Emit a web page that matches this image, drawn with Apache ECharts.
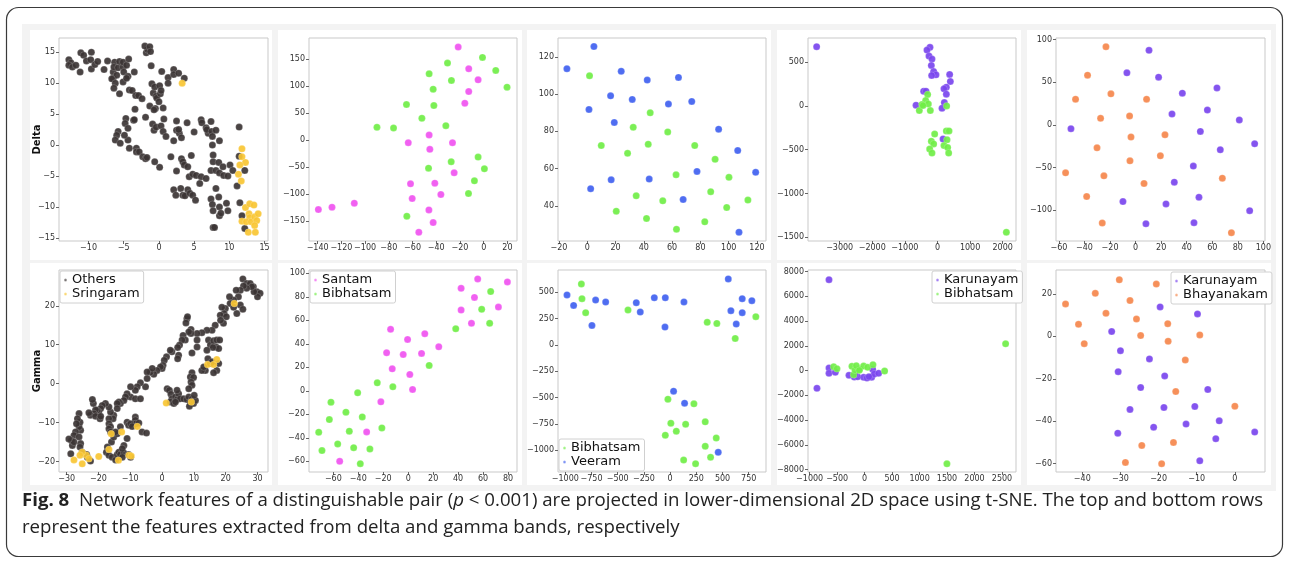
<!DOCTYPE html>
<html>
<head>
<meta charset="utf-8">
<script src="https://cdn.jsdelivr.net/npm/echarts@6/dist/echarts.min.js"></script>
<style>
  html, body { margin: 0; padding: 0; background: #fff; }
  #chart { position: absolute; left: 0; top: 0; width: 1290px; height: 564px; }
  #cap { position: absolute; left: 22px; top: 486px; font-family: 'Open Sans', 'Noto Sans', sans-serif;
         font-size: 18px; line-height: 27px; color: #222; white-space: nowrap; transform-origin: 0 0; }
  #cap div { display: inline-block; }
</style>
</head>
<body>
<div id="chart"></div>
<div id="cap">
  <div id="capLine1"><b>Fig. 8</b>&nbsp; Network features of a distinguishable pair (<i>p</i> &lt; 0.001) are projected in lower-dimensional 2D space using t-SNE. The top and bottom rows</div><br>
  <div>represent the features extracted from delta and gamma bands, respectively</div>
</div>
<script>
// ---- delta band (top row) ----
var delta1Others = [[-12.8,13.8],[-12.5,13.3],[-12.8,12.9],[-12.3,12.6],[-11.8,12.9],[-11.2,11.8],[-11.1,14.9],[-10.7,14.5],[-10.3,13.6],[-9.6,15.0],[-9.7,13.8],[-9.6,12.3],[-9.1,13.0],[-8.7,13.5],[-7.8,12.2],[-7.3,13.6],[-6.5,11.8],[-6.5,10.8],[-6.3,13.4],[-6.4,12.6],[-6.0,11.3],[-5.8,12.5],[-5.6,13.5],[-5.1,12.6],[-5.0,11.8],[-5.1,13.4],[-4.6,12.9],[-4.3,13.9],[-3.5,11.8],[-4.4,11.1],[-6.7,10.7],[-6.2,10.0],[-6.4,9.2],[-5.6,8.3],[-5.1,10.2],[-4.6,10.8],[-4.2,8.9],[-3.8,8.8],[-3.3,8.0],[-2.9,8.0],[-2.4,7.5],[-1.3,6.3],[-0.8,8.4],[-0.4,7.9],[-0.3,7.6],[0.0,7.0],[-0.5,5.9],[-0.7,5.7],[0.2,8.3],[0.6,6.0],[-1.0,9.9],[-0.6,9.4],[0.1,9.6],[0.3,8.8],[-1.1,12.8],[-1.8,14.9],[-1.6,15.4],[-2.0,16.0],[-1.3,15.9],[-1.2,15.1],[0.4,11.9],[1.3,10.9],[2.1,12.2],[2.1,11.4],[2.8,11.6],[3.6,10.8],[1.3,10.0],
  [-3.4,5.8],[-3.6,4.0],[-4.7,4.3],[-4.8,3.5],[-4.4,2.7],[-5.8,2.2],[-6.0,1.6],[-6.2,0.8],[-5.5,0.3],[-4.4,0.8],[-4.9,1.6],[-3.5,4.1],[-4.2,-0.5],[-3.2,-0.5],[-3.2,-1.1],[-2.8,-1.1],[-2.3,-1.9],[-1.9,-2.2],[-1.7,-2.0],[-0.6,-2.7],[0.1,-3.6],[-1.9,4.5],[-0.9,3.4],[-0.7,2.4],[-0.4,2.9],[0.3,3.1],[0.7,4.2],[0.6,2.2],[1.0,1.4],[2.5,3.9],[2.5,2.4],[2.9,1.9],[3.2,1.2],[2.1,0.7],[2.8,2.5],[4.0,3.6],[5.0,2.1],[1.7,-1.9],[3.2,-2.2],[3.4,-2.7],[3.6,-3.2],[2.5,-4.2],[4.1,-3.5],[4.6,-1.7],[4.3,-5.1],[4.8,-4.7],[5.3,-4.9],[5.8,-6.2],[6.0,-5.1],[6.7,-5.4],[6.0,4.1],[6.1,3.6],[6.7,2.8],[7.0,1.9],[7.4,3.8],[6.8,2.5],[7.5,2.2],[7.6,1.4],[8.1,2.4],[8.6,0.7],[7.6,0.0],[7.7,-1.6],[7.7,-2.7],[8.5,-2.8],[7.4,-4.1],[8.1,-4.1],[8.6,-4.5],[9.1,-3.5],[9.2,-4.9],[9.8,-5.0],[10.1,-3.2],[10.5,-4.1],[11.4,2.9],[11.4,-1.8],[12.2,-4.1],[11.1,-6.6],
  [2.1,-7.2],[2.4,-8.1],[3.1,-7.0],[3.4,-8.1],[3.7,-8.2],[4.1,-7.2],[4.4,-7.8],[4.8,-8.1],[5.2,-8.9],[7.4,-8.7],[7.6,-9.6],[7.7,-10.6],[8.1,-7.0],[8.5,-8.4],[8.6,-10.0],[8.6,-11.4],[8.8,-11.0],[9.6,-9.4],[9.8,-10.6],[7.7,-13.3],[7.9,-13.3],[11.5,-9.3],[11.8,-11.4],[12.2,-13.5]];
var delta1Sringaram = [[3.3,10.0],[11.8,-0.6],[11.8,-1.9],[12.3,-2.8],[11.5,-3.2],[11.3,-4.7],[11.7,-5.8],[12.3,-10.1],[12.9,-9.5],[13.5,-9.7],[12.8,-11.1],[12.9,-11.7],[11.8,-12.3],[12.4,-12.4],[13.1,-12.4],[13.6,-11.6],[14.1,-11.1],[13.9,-12.2],[13.6,-13.0],[12.7,-14.1],[13.7,-14.1]];

var delta2Santam = [[-21.5,172.3],[-12.6,132.1],[-4.7,111.6],[-12.6,90.0],[-15.9,68.3],[-46.0,9.6],[-26.3,-4.7],[-63.6,-4.7],[-45.4,-17.0],[-24.9,-60.3],[-41.2,-79.5],[-61.7,-80.7],[-36.1,-100.5],[-60.3,-108.0],[-139.4,-128.4],[-127.9,-124.0],[-109.1,-116.6],[-46.2,-129.0],[-42.6,-152.5],[-54.7,-170.4]];
var delta2Bibhatsam = [[-1.0,153.1],[-30.5,142.6],[10.2,129.0],[-46.0,122.8],[-27.2,110.4],[19.7,98.0],[-42.6,94.3],[-65.1,65.9],[-42.0,64.0],[-52.1,40.5],[-31.9,26.9],[-90.0,23.8],[-76.0,22.6],[-4.7,-31.3],[-27.4,-39.9],[-46.5,-51.7],[0.6,-52.9],[-7.8,-75.2],[-12.8,-98.7],[-64.8,-140.7]];

var delta3Veeram = [[4.7,125.6],[-14.4,113.7],[24.0,112.3],[42.4,107.6],[64.5,109.0],[16.5,99.1],[31.8,97.2],[57.4,94.7],[73.9,96.1],[1.2,91.8],[19.1,84.8],[92.9,81.2],[106.4,69.7],[77.6,58.5],[119.1,58.0],[2.4,49.2],[16.9,54.0],[43.8,54.4],[67.8,43.4],[107.3,25.8]];
var delta3Bibhatsam = [[1.6,109.9],[44.5,90.0],[32.5,82.2],[56.9,79.7],[9.9,72.4],[43.1,73.1],[76.0,72.4],[28.5,68.2],[90.4,65.0],[62.8,56.7],[100.2,55.3],[87.3,47.6],[34.6,45.4],[53.4,42.7],[113.6,43.1],[98.6,39.1],[20.5,37.1],[41.9,33.2],[83.1,31.4],[63.1,27.4]];

var delta4Karunayam = [[-3706,676],[-229,668],[-321,637],[-260,569],[-168,534],[-188,462],[-117,393],[-45,355],[-178,347],[374,359],[395,279],[272,214],[200,195],[272,134],[-423,168],[-352,168],[-658,8],[211,38],[140,-27],[171,-378]];
var delta4Bibhatsam = [[-301,130],[-362,61],[-280,23],[-475,15],[-556,-53],[-219,-53],[-444,4],[282,0],[272,-286],[354,-286],[-86,-321],[293,-385],[-188,-404],[-117,-434],[200,-453],[313,-476],[-239,-492],[-168,-538],[344,-538],[2113,-1443]];

var delta5Bhayanakam = [[-23.2,91.8],[-37.6,58.4],[-19.3,36.5],[-47.0,30.2],[8.6,30.2],[-27.4,7.8],[-4.7,10.6],[-3.6,-14.1],[23.0,-11.4],[-30.2,-26.7],[19.4,-36.1],[-4.4,-42.0],[-54.8,-56.1],[-24.8,-59.6],[6.6,-68.6],[67.9,-62.4],[-38.3,-83.9],[-26.1,-114.9],[75.0,-126.3]];
var delta5Karunayam = [[10.5,87.5],[-6.8,61.2],[18.0,56.1],[36.6,37.3],[63.7,43.5],[28.5,12.9],[56.2,17.6],[81.2,5.9],[-50.6,-4.3],[50.7,-7.5],[93.2,-22.0],[66.3,-29.0],[45.2,-48.2],[30.3,-67.1],[49.6,-84.7],[-9.9,-89.8],[23.8,-92.5],[89.3,-100.4],[8.1,-115.7],[45.7,-114.5]];

// ---- gamma band (bottom row) ----
var gamma1Others = [[25.4,26.9],[26.6,25.7],[27.7,25.7],[28.7,24.9],[29.8,23.6],[30.8,23.2],[30.0,22.3],[28.9,23.6],[28.2,24.9],[26.6,24.5],[25.6,25.1],[24.6,24.0],[23.3,24.0],[24.0,22.3],[22.5,21.5],[21.2,22.3],[21.4,20.6],[22.5,19.6],[24.6,20.2],[25.4,19.1],[23.5,18.0],[19.9,19.3],[18.8,19.6],[19.5,18.0],[18.3,17.6],[20.2,17.2],[19.3,15.5],[18.4,16.3],[16.7,15.0],[15.7,13.7],[14.1,13.7],[12.5,13.1],[11.0,12.9],[14.6,11.2],[15.2,9.9],[16.2,11.0],[17.2,11.2],[18.1,11.2],[17.0,9.4],[17.8,9.0],[16.0,9.3],[14.1,8.6],[14.4,6.4],[15.2,5.2],[15.7,5.6],[13.6,3.4],[12.5,3.4],[13.1,4.3],[17.8,5.2],[17.2,3.4],[16.2,2.8],
  [7.8,16.7],[8.0,17.2],[7.5,15.6],[9.1,13.9],[9.1,12.9],[8.4,13.3],[11.0,11.2],[11.0,9.4],[9.4,7.9],[6.6,12.4],[7.3,11.2],[6.3,11.2],[5.5,9.9],[4.9,9.3],[5.2,7.3],[4.9,6.4],[3.1,8.2],[2.6,8.6],[1.4,6.9],[0.7,6.0],[0.3,4.7],[0.0,3.9],[-0.5,4.3],[-1.6,3.4],[-2.6,2.4],[-3.7,2.9],[-3.1,3.9],[-4.7,3.0],[-4.7,1.3],[-5.2,-0.8],[-6.8,0.2],[-7.8,-0.8],[-8.4,-1.7],[-9.9,-0.8],[-9.9,-3.4],[-8.4,-3.9],[-6.8,-3.9],[-11.0,-2.6],[-11.5,-3.4],[-12.0,-4.3],[-13.1,-5.1],[-13.6,-4.7],[-14.1,-5.1],[-14.1,-6.4],[-15.2,-8.1],[-15.4,-9.0],[-16.2,-7.3],[-16.7,-6.0],[-17.8,-5.1],[-18.8,-5.6],[-19.3,-6.4],[-19.9,-7.3],[-20.4,-6.9],[-20.9,-6.7],[-21.4,-7.7],[-21.6,-5.1],[-21.9,-4.1],[-22.5,-8.1],[-20.9,-8.4],[-23.0,-7.5],[-19.5,-9.0],[-19.3,-8.4],
  [1.6,-1.3],[2.3,-1.7],[2.8,-2.7],[3.1,-3.9],[2.6,-4.7],[3.7,-5.1],[4.2,-3.4],[4.7,-4.1],[5.2,-2.6],[5.7,-3.9],[4.7,-1.7],[4.2,-4.7],[6.8,-3.9],[7.8,-4.1],[8.4,-3.4],[8.9,-4.7],[9.4,-3.9],[9.9,-5.1],[10.5,-4.3],[8.6,-5.8],[10.1,-3.0],[9.4,2.8],[8.9,1.7],[9.9,1.6],[9.1,0.4],[9.4,-0.4],[8.4,-1.3],
  [-16.7,-9.0],[-16.7,-10.3],[-16.2,-11.1],[-16.7,-11.6],[-16.2,-12.4],[-15.9,-15.0],[-17.2,-16.3],[-17.5,-17.6],[-16.7,-18.4],[-15.7,-18.9],[-14.6,-19.6],[-14.1,-18.2],[-13.6,-17.6],[-13.1,-18.2],[-12.0,-17.8],[-15.2,-13.7],[-14.1,-12.9],[-14.6,-12.4],[-13.1,-11.1],[-11.0,-9.9],[-10.5,-10.7],[-8.4,-8.6],[-8.4,-9.4],[-8.4,-10.3],[-9.9,-10.3],[-9.4,-11.0],[-7.3,-10.1],[-6.3,-12.4],[-4.9,-12.7],[-11.0,-14.1],[-12.0,-15.9],[-12.5,-16.7],[-25.6,-12.0],[-26.1,-11.1],[-25.8,-9.9],[-26.1,-7.7],[-26.6,-9.0],[-26.9,-10.3],[-27.2,-12.4],[-27.7,-13.3],[-28.2,-15.9],[-28.5,-14.6],[-27.7,-15.0],[-26.1,-13.7],[-25.6,-15.4],[-25.8,-16.3],[-25.1,-17.6],[-23.5,-18.9],[-22.5,-19.9],[-23.7,-18.2],[-29.3,-14.2],[-28.7,-18.0],[-10.5,-18.2],[-9.9,-18.9],[-12.5,-18.9]];
var gamma1Sringaram = [[22.7,20.6],[14.3,4.9],[16.2,4.9],[17.2,6.2],[1.3,-5.0],[9.2,-4.7],[-7.8,-11.0],[-12.7,-12.4],[-16.0,-12.9],[-16.7,-16.9],[-13.7,-19.7],[-10.4,-18.4],[-9.7,-18.6],[-19.9,-18.7],[-23.8,-18.4],[-25.1,-17.6],[-27.7,-19.6],[-25.1,-20.6],[-23.0,-19.3],[-25.8,-18.4]];

var gamma2Santam = [[55.7,95.2],[79.5,92.6],[42.4,87.2],[53.1,79.5],[42.4,68.7],[72.3,71.3],[50.7,57.4],[-14.1,52.3],[-0.5,43.7],[13.3,48.6],[-17.3,32.4],[-4.0,30.9],[10.7,31.8],[24.5,37.5],[-12.8,18.7],[1.3,13.9],[3.5,1.1],[-21.9,-9.4],[-33.3,-35.0],[-54.9,-60.0]];
var gamma2Bibhatsam = [[66.1,84.4],[58.9,69.3],[65.3,57.4],[38.1,52.8],[16.8,21.6],[-24.8,6.8],[-12.3,3.4],[-40.5,-1.7],[-61.9,-9.7],[-49.9,-18.2],[-36.8,-22.2],[-63.2,-24.5],[-71.7,-35.3],[-47.2,-34.4],[-21.1,-31.6],[-56.5,-45.2],[-43.7,-48.4],[-30.7,-49.5],[-69.1,-50.9],[-38.4,-62.0]];

var gamma3Bibhatsam = [[-847,579],[-841,440],[-806,307],[-402,332],[354,215],[446,205],[621,62],[818,269],[-21,-515],[227,-559],[7,-743],[148,-753],[59,-819],[-46,-857],[335,-730],[335,-962],[440,-883],[386,-1067],[129,-1092],[243,-1127]];
var gamma3Veeram = [[-984,475],[-921,376],[-711,427],[-615,408],[-746,186],[-323,402],[-285,313],[-151,449],[-46,449],[-49,170],[132,408],[555,627],[580,326],[631,199],[688,440],[688,307],[780,421],[33,-439],[138,-553],[459,-1019]];

var gamma4Karunayam = [[-648,7356],[-867,-1424],[-648,214],[-648,-216],[-533,-135],[-284,-377],[-187,-512],[-127,-485],[-18,-539],[43,-592],[128,-539],[146,106],[176,-270],[255,-216],[79,-485],[-175,-324]];
var gamma4Bibhatsam = [[-563,321],[-503,160],[-230,348],[-200,-324],[-175,52],[-91,133],[-18,375],[55,267],[152,482],[364,-28],[-151,401],[-97,27],[2566,2174],[1498,-7519]];

var gamma5Karunayam = [[-19.6,13.9],[-9.8,10.6],[-32.3,2.3],[-30.0,-6.7],[-22.4,-10.6],[-30.6,-16.6],[-18.4,-18.6],[-24.7,-24.1],[-7.1,-25.0],[-27.5,-34.4],[-18.6,-33.5],[-10.5,-33.0],[-12.8,-41.3],[-4.1,-39.8],[-21.3,-42.8],[-30.7,-45.6],[-5.0,-48.2],[5.2,-45.1],[-9.2,-58.6]];
var gamma5Bhayanakam = [[-44.4,15.3],[-41.0,5.7],[-39.5,-3.4],[-36.6,20.3],[-33.8,10.9],[-30.3,26.7],[-27.5,16.9],[-25.8,8.2],[-24.7,0.4],[-20.6,24.7],[-17.6,6.0],[-17.5,-2.3],[-9.2,0.7],[-13.0,-11.1],[-15.5,-26.0],[0.0,-32.9],[-24.4,-51.4],[-16.1,-50.0],[-28.7,-59.4],[-19.2,-60.0]];

// tick labels
var ticksD1x = [-10,-5,0,5,10,15], ticksD1y = [-15,-10,-5,0,5,10,15];
var ticksD2x = [-140,-120,-100,-80,-60,-40,-20,0,20], ticksD2y = [-150,-100,-50,0,50,100,150];
var ticksD3x = [-20,0,20,40,60,80,100,120], ticksD3y = [40,60,80,100,120];
var ticksD4x = [-3000,-2000,-1000,0,1000,2000], ticksD4y = [-1500,-1000,-500,0,500];
var ticksD5x = [-60,-40,-20,0,20,40,60,80,100], ticksD5y = [-100,-50,0,50,100];
var ticksG1x = [-30,-20,-10,0,10,20,30], ticksG1y = [-20,-10,0,10,20];
var ticksG2x = [-60,-40,-20,0,20,40,60,80], ticksG2y = [-60,-40,-20,0,20,40,60,80,100];
var ticksG3x = [-1000,-750,-500,-250,0,250,500,750], ticksG3y = [-1000,-750,-500,-250,0,250,500];
var ticksG4x = [-1000,-500,0,500,1000,1500,2000,2500], ticksG4y = [-8000,-6000,-4000,-2000,0,2000,4000,6000,8000];
var ticksG5x = [-40,-30,-20,-10,0], ticksG5y = [-60,-40,-20,0,20];

var C = {
    Others: '#3b3434', Sringaram: '#f8c633', Santam: '#f052f0', Bibhatsam: '#70ee46',
    Veeram: '#4061f0', Karunayam: '#7a45ee', Bhayanakam: '#f5874c'
};

var colLeft = [59, 309, 558, 808, 1056];
var colWidth = [209, 208, 208, 208, 209];

var panels = [
    { row: 0, col: 0, x: [-14.2, 15.5], y: [-15.5, 17.3], xt: ticksD1x, yt: ticksD1y, s: [['Others', delta1Others], ['Sringaram', delta1Sringaram]], name: 'Delta' },
    { row: 0, col: 1, x: [-147.3, 28.1], y: [-186.5, 189], xt: ticksD2x, yt: ticksD2y, s: [['Santam', delta2Santam], ['Bibhatsam', delta2Bibhatsam]] },
    { row: 0, col: 2, x: [-20.7, 126.4], y: [21.1, 130.2], xt: ticksD3x, yt: ticksD3y, s: [['Bibhatsam', delta3Bibhatsam], ['Veeram', delta3Veeram]] },
    { row: 0, col: 3, x: [-3971, 2409], y: [-1542, 775], xt: ticksD4x, yt: ticksD4y, s: [['Karunayam', delta4Karunayam], ['Bibhatsam', delta4Bibhatsam]] },
    { row: 0, col: 4, x: [-62.3, 101.3], y: [-136, 102], xt: ticksD5x, yt: ticksD5y, s: [['Karunayam', delta5Karunayam], ['Bhayanakam', delta5Bhayanakam]] },
    { row: 1, col: 0, x: [-32.4, 33.3], y: [-22.7, 29.2], xt: ticksG1x, yt: ticksG1y, s: [['Others', gamma1Others], ['Sringaram', gamma1Sringaram]], name: 'Gamma',
      legend: { left: 60, top: 271 } },
    { row: 1, col: 1, x: [-79.5, 87.2], y: [-69.1, 102.8], xt: ticksG2x, yt: ticksG2y, s: [['Santam', gamma2Santam], ['Bibhatsam', gamma2Bibhatsam]],
      legend: { left: 310, top: 271 } },
    { row: 1, col: 2, x: [-1070, 915], y: [-1206, 712], xt: ticksG3x, yt: ticksG3y, s: [['Bibhatsam', gamma3Bibhatsam], ['Veeram', gamma3Veeram]],
      legend: { left: 559, top: 439 } },
    { row: 1, col: 3, x: [-1030, 2755], y: [-8188, 8134], xt: ticksG4x, yt: ticksG4y, s: [['Karunayam', gamma4Karunayam], ['Bibhatsam', gamma4Bibhatsam]],
      legend: { left: 932, top: 271 } },
    { row: 1, col: 4, x: [-46.9, 7.9], y: [-63.9, 31.3], xt: ticksG5x, yt: ticksG5y, s: [['Karunayam', gamma5Karunayam], ['Bhayanakam', gamma5Bhayanakam]],
      legend: { left: 1171, top: 272 } }
];

function fmt(v) { return String(v).replace('-', '\u2212'); }

var grids = [], xAxes = [], yAxes = [], series = [], legends = [];
panels.forEach(function (p, i) {
    grids.push({
        left: colLeft[p.col], width: colWidth[p.col],
        top: p.row === 0 ? 38 : 270, height: p.row === 0 ? 203 : 202,
        show: true, borderColor: '#c9c9c9', borderWidth: 1, backgroundColor: '#fff'
    });
    xAxes.push({
        type: 'value', gridIndex: i, min: p.x[0], max: p.x[1],
        axisLine: { show: false, onZero: false }, splitLine: { show: false },
        axisTick: { show: true, length: 3, customValues: p.xt, lineStyle: { color: '#666' } },
        axisLabel: { customValues: p.xt, formatter: fmt, fontSize: 8, color: '#333', margin: 3, fontFamily: 'DejaVu Sans' }
    });
    yAxes.push({
        type: 'value', gridIndex: i, min: p.y[0], max: p.y[1],
        name: p.name || '', nameLocation: 'middle', nameGap: 17, nameRotate: 90, nameMoveOverlap: false,
        nameTextStyle: { fontSize: 10, fontWeight: 'bold', color: '#111', fontFamily: 'DejaVu Sans' },
        axisLine: { show: false, onZero: false }, splitLine: { show: false },
        axisTick: { show: true, length: 3, customValues: p.yt, lineStyle: { color: '#666' } },
        axisLabel: { customValues: p.yt, formatter: fmt, fontSize: 8, color: '#333', margin: 4, fontFamily: 'DejaVu Sans' }
    });
    p.s.forEach(function (s) {
        series.push({
            type: 'scatter', name: s[0], xAxisIndex: i, yAxisIndex: i, data: s[1],
            symbolSize: 7, silent: true,
            itemStyle: { color: C[s[0]], opacity: 0.92, borderColor: 'rgba(255,255,255,0.5)', borderWidth: 0.4 }
        });
    });
    if (p.legend) {
        legends.push({
            data: [p.s[0][0], p.s[1][0]], left: p.legend.left, top: p.legend.top, orient: 'vertical',
            icon: 'circle', itemWidth: 3, itemHeight: 3, itemGap: 0, padding: [2, 4, 2, 3],
            backgroundColor: '#fff', borderColor: '#d0d0d0', borderWidth: 1, borderRadius: 2,
            selectedMode: false,
            textStyle: { fontSize: 13, color: '#111', fontFamily: 'DejaVu Sans', lineHeight: 14 }
        });
    }
});

// frame, grey mat and white cards
var cardX = [[30, 272], [278, 522], [527, 771], [777, 1021], [1027, 1271]];
var cardY = [[30, 260], [263, 485]];
var graphics = [
    { type: 'rect', shape: { x: 6.5, y: 7.5, width: 1276, height: 549, r: 12 }, style: { fill: '#fff', stroke: '#3a3a3a', lineWidth: 1.2 }, z: -20 },
    { type: 'rect', shape: { x: 22, y: 24, width: 1254, height: 467 }, style: { fill: '#f3f3f3' }, z: -19 }
];
cardY.forEach(function (cy) {
    cardX.forEach(function (cx) {
        graphics.push({ type: 'rect', shape: { x: cx[0], y: cy[0], width: cx[1] - cx[0], height: cy[1] - cy[0] }, style: { fill: '#fff' }, z: -18 });
    });
});

var myChart = echarts.init(document.getElementById('chart'), null, { renderer: 'canvas' });
myChart.setOption({
    animation: false,
    graphic: graphics,
    grid: grids,
    xAxis: xAxes,
    yAxis: yAxes,
    legend: legends,
    series: series
});

// squeeze the caption to the width of the printed figure text
var cap = document.getElementById('cap');
var w = document.getElementById('capLine1').offsetWidth;
cap.style.transform = 'scaleX(' + (1241 / w) + ')';
</script>
</body>
</html>
